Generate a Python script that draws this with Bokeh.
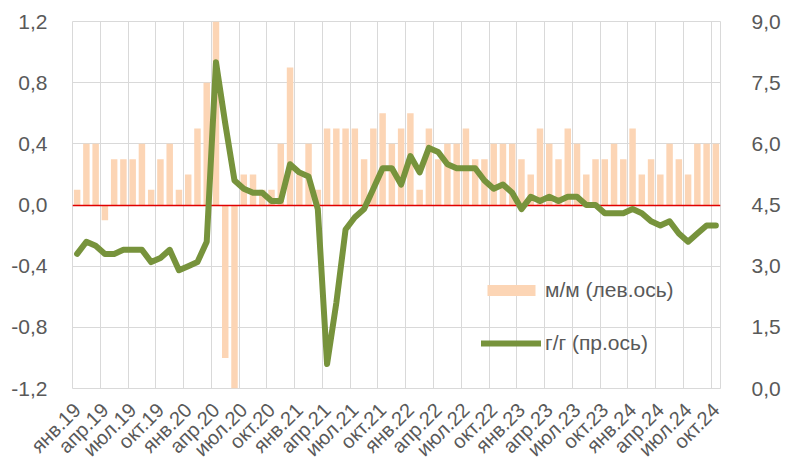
from math import pi
from bokeh.plotting import figure
from bokeh.models import (Range1d, LinearAxis, FixedTicker, CustomJSTickFormatter,
                          Legend, LegendItem, ColumnDataSource)
from bokeh.embed import file_html
from bokeh.resources import INLINE

# ---- data ----
month_labels = ["янв.19", "апр.19", "июл.19", "окт.19",
                "янв.20", "апр.20", "июл.20", "окт.20",
                "янв.21", "апр.21", "июл.21", "окт.21",
                "янв.22", "апр.22", "июл.22", "окт.22",
                "янв.23", "апр.23", "июл.23", "окт.23",
                "янв.24", "апр.24", "июл.24", "окт.24"]

mm = [0.1, 0.4, 0.4, -0.1, 0.3, 0.3, 0.3, 0.4, 0.1, 0.3, 0.4, 0.1,
      0.2, 0.5, 0.8, 1.2, -1.0, -1.2, 0.2, 0.2, 0.1, 0.1, 0.4, 0.9,
      0.2, 0.4, 0.1, 0.5, 0.5, 0.5, 0.5, 0.3, 0.5, 0.6, 0.4, 0.5,
      0.6, 0.1, 0.5, 0.3, 0.4, 0.4, 0.5, 0.3, 0.3, 0.4, 0.4, 0.4,
      0.3, 0.2, 0.5, 0.4, 0.3, 0.5, 0.4, 0.2, 0.3, 0.3, 0.4, 0.3,
      0.5, 0.2, 0.3, 0.2, 0.4, 0.3, 0.2, 0.4, 0.4, 0.4]

yy = [3.3, 3.6, 3.5, 3.3, 3.3, 3.4, 3.4, 3.4, 3.1, 3.2, 3.4, 2.9,
      3.0, 3.1, 3.6, 8.0, 6.5, 5.1, 4.9, 4.8, 4.8, 4.6, 4.6, 5.5,
      5.3, 5.2, 4.4, 0.6, 2.1, 3.9, 4.2, 4.4, 4.9, 5.4, 5.4, 5.0,
      5.7, 5.3, 5.9, 5.8, 5.5, 5.4, 5.4, 5.4, 5.1, 4.9, 5.0, 4.8,
      4.4, 4.7, 4.6, 4.7, 4.6, 4.7, 4.7, 4.5, 4.5, 4.3, 4.3, 4.3,
      4.4, 4.3, 4.1, 4.0, 4.1, 3.8, 3.6, 3.8, 4.0, 4.0]

left_ticks = [-1.2, -0.8, -0.4, 0.0, 0.4, 0.8, 1.2]
right_ticks = [0.0, 1.5, 3.0, 4.5, 6.0, 7.5, 9.0]
label_step = 3

# ---- figure ----
n = len(mm)
x = list(range(n))
src = ColumnDataSource(dict(x=x, mm=mm, yy=yy))

TEXT = "#595959"
FONT = "Liberation Sans"
FS = "21px"

p = figure(width=783, height=472, output_backend="svg", toolbar_location=None,
           x_range=Range1d(-0.5, n - 0.5), y_range=Range1d(-1.2, 1.2),
           min_border_left=72, min_border_right=60, min_border_top=21,
           min_border_bottom=84, background_fill_color="white",
           border_fill_color="white")
p.outline_line_color = "#D9D9D9"
p.extra_y_ranges = {"right": Range1d(0, 9)}

fmt = CustomJSTickFormatter(code="return tick.toFixed(1).replace('.', ',');")

# left axis
ya = p.yaxis[0]
ya.ticker = FixedTicker(ticks=left_ticks)
ya.formatter = fmt

# right axis
ra = LinearAxis(y_range_name="right", ticker=FixedTicker(ticks=right_ticks), formatter=fmt)
p.add_layout(ra, "right")

# x axis
tick_pos = list(range(0, n, label_step))
xa = p.xaxis[0]
xa.ticker = FixedTicker(ticks=tick_pos)
xa.major_label_overrides = {t: lab for t, lab in zip(tick_pos, month_labels)}
xa.major_label_orientation = pi / 4

for ax in [ya, ra, xa]:
    ax.axis_line_color = None
    ax.major_tick_line_color = None
    ax.minor_tick_line_color = None
    ax.major_label_text_color = TEXT
    ax.major_label_text_font = FONT
    ax.major_label_text_font_size = FS
xa.major_label_text_font_size = "20px"
ya.major_label_standoff = 19
ra.major_label_standoff = 25
xa.major_label_standoff = 12

p.ygrid.grid_line_color = "#D9D9D9"
p.xgrid.grid_line_color = "#D9D9D9"
p.xgrid.ticker = FixedTicker(ticks=[t - 0.5 for t in tick_pos])

bars = p.vbar(x="x", top="mm", bottom=0, width=0.7, source=src,
              fill_color="#FCD5B5", line_color=None)
p.hspan(y=[0], line_color="#E00000", line_width=1.5)
line = p.line(x="x", y="yy", source=src, y_range_name="right",
              line_color="#77933C", line_width=6, line_join="round", line_cap="round")

legend = Legend(items=[LegendItem(label="м/м (лев.ось)", renderers=[bars]),
                       LegendItem(label="г/г (пр.ось)", renderers=[line])],
                location=(409, 33), orientation="vertical",
                background_fill_alpha=0, border_line_alpha=0,
                padding=0, margin=0, spacing=28,
                glyph_width=60, glyph_height=14, label_standoff=4,
                label_text_font=FONT, label_text_font_size=FS,
                label_text_color=TEXT, label_height=25)
p.add_layout(legend, "center")

open("out.html", "w").write(file_html(p, INLINE))
